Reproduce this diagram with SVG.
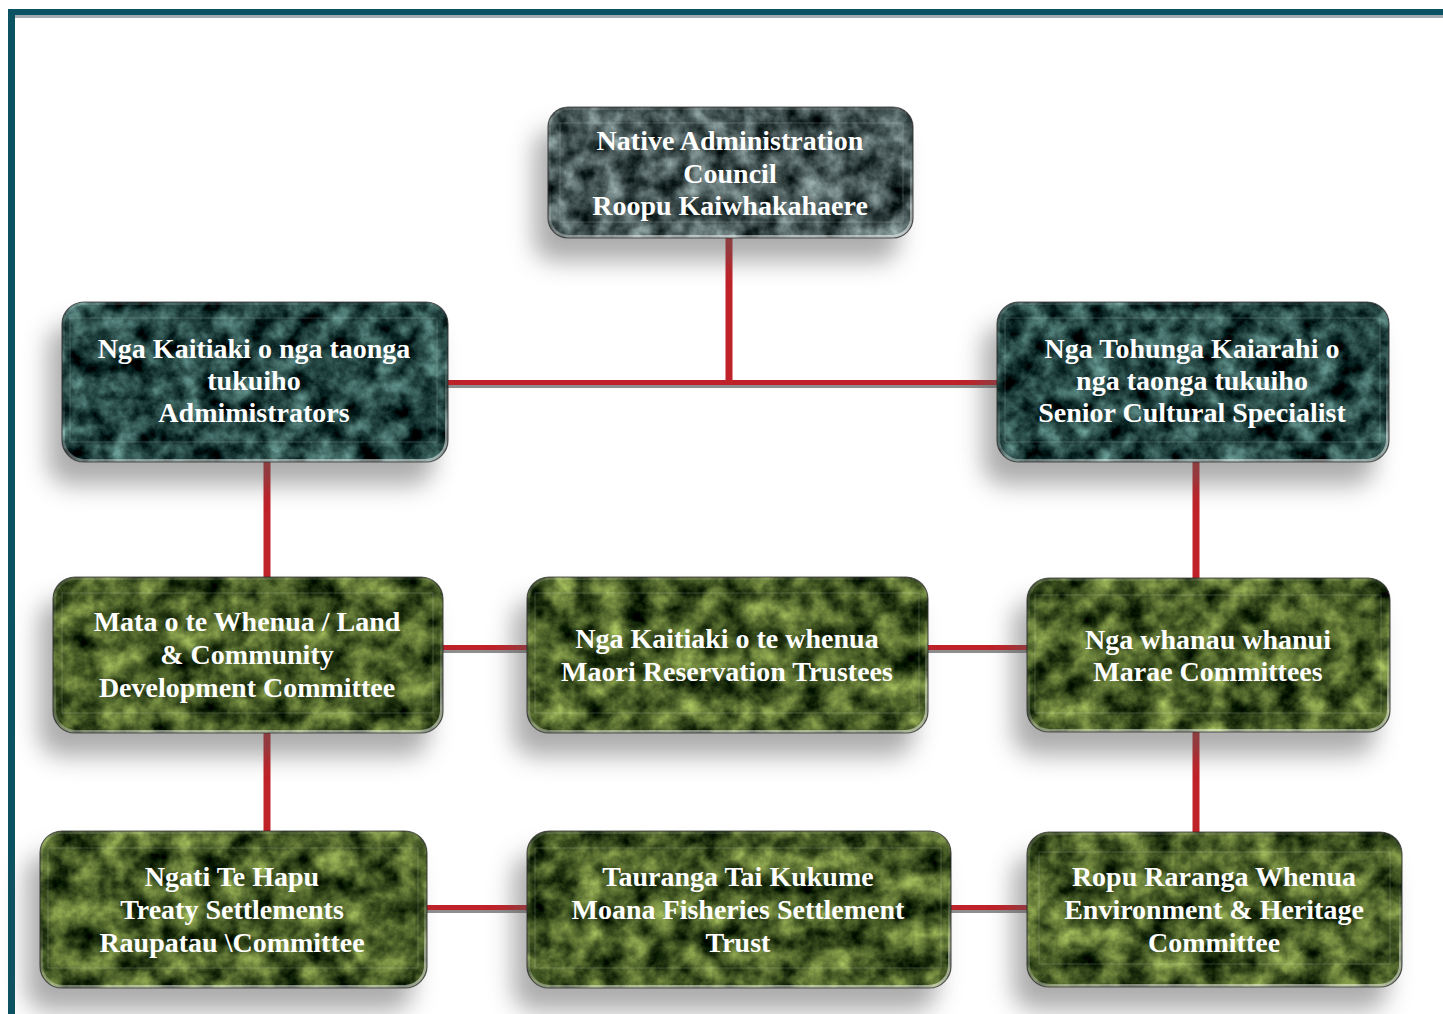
<svg xmlns="http://www.w3.org/2000/svg" width="1443" height="1014" viewBox="0 0 1443 1014">
<defs>
<style>
.lbl{font-family:"Liberation Serif","Times New Roman",serif;font-weight:bold;font-size:28px;fill:#ffffff;text-anchor:middle}
.shadow{fill:#5a5a5a;opacity:0.5;filter:url(#blur)}
.rim{fill:none;stroke:url(#rimGrad);stroke-width:3}
.edge{fill:none;stroke:#2b2b2b;stroke-opacity:0.75;stroke-width:1.2}
.inner{fill:none;stroke:#ffffff;stroke-opacity:0.22;stroke-width:0.8}
.red{stroke:#bf2229;fill:none}
.grey{stroke:#8e8e8e;fill:none}
.teal{filter:url(#mTeal)}
.gray{filter:url(#mGray)}
.green{filter:url(#mGreen)}
</style>
<filter id="blur" x="-20%" y="-30%" width="140%" height="160%">
<feGaussianBlur stdDeviation="12"/>
</filter>
<filter id="mTeal" x="0" y="0" width="1" height="1" color-interpolation-filters="sRGB">
<feTurbulence type="fractalNoise" baseFrequency="0.045" numOctaves="5" seed="7" result="n"/>
<feColorMatrix in="n" type="matrix" values="0.8 0 0 0 -0.26  1.0 0 0 0 -0.23  0.95 0 0 0 -0.215  0 0 0 0 1" result="c"/>
<feComposite in="c" in2="SourceGraphic" operator="in"/>
</filter>
<filter id="mGray" x="0" y="0" width="1" height="1" color-interpolation-filters="sRGB">
<feTurbulence type="fractalNoise" baseFrequency="0.045" numOctaves="5" seed="3" result="n"/>
<feColorMatrix in="n" type="matrix" values="0.9 0 0 0 -0.18  0.95 0 0 0 -0.145  0.95 0 0 0 -0.145  0 0 0 0 1" result="c"/>
<feComposite in="c" in2="SourceGraphic" operator="in"/>
</filter>
<filter id="mGreen" x="0" y="0" width="1" height="1" color-interpolation-filters="sRGB">
<feTurbulence type="fractalNoise" baseFrequency="0.04" numOctaves="5" seed="11" result="n"/>
<feColorMatrix in="n" type="matrix" values="0.95 0 0 0 -0.195  1.0 0 0 0 -0.14  0.55 0 0 0 -0.125  0 0 0 0 1" result="c"/>
<feComposite in="c" in2="SourceGraphic" operator="in"/>
</filter>
<linearGradient id="rimGrad" x1="0" y1="0" x2="0.3" y2="1">
<stop offset="0" stop-color="#ffffff" stop-opacity="0.15"/>
<stop offset="0.5" stop-color="#ffffff" stop-opacity="0"/>
<stop offset="0.85" stop-color="#ffffff" stop-opacity="0.25"/>
<stop offset="1" stop-color="#ffffff" stop-opacity="0.5"/>
</linearGradient>
</defs>

<rect width="1443" height="1014" fill="#ffffff"/>

<g id="frame">
<rect x="15" y="15" width="1428" height="3" fill="#a4aab0"/>
<rect x="8" y="9" width="1435" height="6" fill="#0b5262"/>
<rect x="8" y="9" width="7" height="1005" fill="#0b5262"/>
</g>

<g id="connectors">
<line class="grey" x1="447" y1="386.5" x2="997" y2="386.5" stroke-width="3"/>
<line class="grey" x1="442" y1="651.5" x2="527" y2="651.5" stroke-width="3"/>
<line class="grey" x1="928" y1="651.5" x2="1028" y2="651.5" stroke-width="3"/>
<line class="grey" x1="427" y1="911.5" x2="527" y2="911.5" stroke-width="3"/>
<line class="grey" x1="951" y1="911.5" x2="1028" y2="911.5" stroke-width="3"/>
<line class="red" x1="729" y1="238" x2="729" y2="385" stroke-width="7"/>
<line class="red" x1="447" y1="382.5" x2="997" y2="382.5" stroke-width="5"/>
<line class="red" x1="267" y1="462" x2="267" y2="577" stroke-width="7"/>
<line class="red" x1="267" y1="733" x2="267" y2="831" stroke-width="7"/>
<line class="red" x1="1196" y1="462" x2="1196" y2="578" stroke-width="7"/>
<line class="red" x1="1196" y1="732" x2="1196" y2="832" stroke-width="7"/>
<line class="red" x1="442" y1="647.5" x2="527" y2="647.5" stroke-width="5"/>
<line class="red" x1="928" y1="647.5" x2="1028" y2="647.5" stroke-width="5"/>
<line class="red" x1="427" y1="907.5" x2="527" y2="907.5" stroke-width="5"/>
<line class="red" x1="951" y1="907.5" x2="1028" y2="907.5" stroke-width="5"/>
</g>

<g id="node-council">
<rect class="shadow" x="534" y="130" width="365" height="131" rx="20"/>
<rect class="gray" x="548" y="107" width="365" height="131" rx="20"/>
<rect class="inner" x="560" y="123" width="343" height="99"/>
<rect class="rim" x="549.5" y="108.5" width="362" height="128" rx="19"/>
<rect class="edge" x="548" y="107" width="365" height="131" rx="20"/>
<text class="lbl" x="730" y="150">Native Administration</text>
<text class="lbl" x="730" y="183">Council</text>
<text class="lbl" x="730" y="215">Roopu Kaiwhakahaere</text>
</g>

<g id="node-administrators">
<rect class="shadow" x="48" y="325" width="386" height="160" rx="22"/>
<rect class="teal" x="62" y="302" width="386" height="160" rx="22"/>
<rect class="inner" x="70" y="318" width="367" height="124"/>
<rect class="rim" x="63.5" y="303.5" width="383" height="157" rx="21"/>
<rect class="edge" x="62" y="302" width="386" height="160" rx="22"/>
<text class="lbl" x="254" y="358">Nga Kaitiaki o nga taonga</text>
<text class="lbl" x="254" y="390">tukuiho</text>
<text class="lbl" x="254" y="422">Admimistrators</text>
</g>

<g id="node-specialist">
<rect class="shadow" x="983" y="325" width="392" height="160" rx="22"/>
<rect class="teal" x="997" y="302" width="392" height="160" rx="22"/>
<rect class="inner" x="1005" y="318" width="375" height="124"/>
<rect class="rim" x="998.5" y="303.5" width="389" height="157" rx="21"/>
<rect class="edge" x="997" y="302" width="392" height="160" rx="22"/>
<text class="lbl" x="1192" y="358">Nga Tohunga Kaiarahi o</text>
<text class="lbl" x="1192" y="390">nga taonga tukuiho</text>
<text class="lbl" x="1192" y="422">Senior Cultural Specialist</text>
</g>

<g id="node-land">
<rect class="shadow" x="39" y="600" width="390" height="156" rx="22"/>
<rect class="green" x="53" y="577" width="390" height="156" rx="22"/>
<rect class="inner" x="62" y="593" width="371" height="120"/>
<rect class="rim" x="54.5" y="578.5" width="387" height="153" rx="21"/>
<rect class="edge" x="53" y="577" width="390" height="156" rx="22"/>
<text class="lbl" x="247" y="631">Mata o te Whenua / Land</text>
<text class="lbl" x="247" y="664">&amp; Community</text>
<text class="lbl" x="247" y="697">Development Committee</text>
</g>

<g id="node-reservation">
<rect class="shadow" x="513" y="600" width="401" height="156" rx="22"/>
<rect class="green" x="527" y="577" width="401" height="156" rx="22"/>
<rect class="inner" x="535" y="593" width="384" height="120"/>
<rect class="rim" x="528.5" y="578.5" width="398" height="153" rx="21"/>
<rect class="edge" x="527" y="577" width="401" height="156" rx="22"/>
<text class="lbl" x="727" y="648">Nga Kaitiaki o te whenua</text>
<text class="lbl" x="727" y="681">Maori Reservation Trustees</text>
</g>

<g id="node-marae">
<rect class="shadow" x="1013" y="601" width="363" height="154" rx="22"/>
<rect class="green" x="1027" y="578" width="363" height="154" rx="22"/>
<rect class="inner" x="1035" y="595" width="346" height="118"/>
<rect class="rim" x="1028.5" y="579.5" width="360" height="151" rx="21"/>
<rect class="edge" x="1027" y="578" width="363" height="154" rx="22"/>
<text class="lbl" x="1208" y="649">Nga whanau whanui</text>
<text class="lbl" x="1208" y="681">Marae Committees</text>
</g>

<g id="node-treaty">
<rect class="shadow" x="26" y="854" width="387" height="157" rx="22"/>
<rect class="green" x="40" y="831" width="387" height="157" rx="22"/>
<rect class="inner" x="48" y="848" width="370" height="120"/>
<rect class="rim" x="41.5" y="832.5" width="384" height="154" rx="21"/>
<rect class="edge" x="40" y="831" width="387" height="157" rx="22"/>
<text class="lbl" x="232" y="886">Ngati Te Hapu</text>
<text class="lbl" x="232" y="919">Treaty Settlements</text>
<text class="lbl" x="232" y="952">Raupatau \Committee</text>
</g>

<g id="node-fisheries">
<rect class="shadow" x="513" y="854" width="424" height="157" rx="22"/>
<rect class="green" x="527" y="831" width="424" height="157" rx="22"/>
<rect class="inner" x="535" y="848" width="406" height="120"/>
<rect class="rim" x="528.5" y="832.5" width="421" height="154" rx="21"/>
<rect class="edge" x="527" y="831" width="424" height="157" rx="22"/>
<text class="lbl" x="738" y="886">Tauranga Tai Kukume</text>
<text class="lbl" x="738" y="919">Moana Fisheries Settlement</text>
<text class="lbl" x="738" y="952">Trust</text>
</g>

<g id="node-environment">
<rect class="shadow" x="1013" y="855" width="375" height="155" rx="22"/>
<rect class="green" x="1027" y="832" width="375" height="155" rx="22"/>
<rect class="inner" x="1039" y="852" width="351" height="112"/>
<rect class="rim" x="1028.5" y="833.5" width="372" height="152" rx="21"/>
<rect class="edge" x="1027" y="832" width="375" height="155" rx="22"/>
<text class="lbl" x="1214" y="886">Ropu Raranga Whenua</text>
<text class="lbl" x="1214" y="919">Environment &amp; Heritage</text>
<text class="lbl" x="1214" y="952">Committee</text>
</g>
</svg>
